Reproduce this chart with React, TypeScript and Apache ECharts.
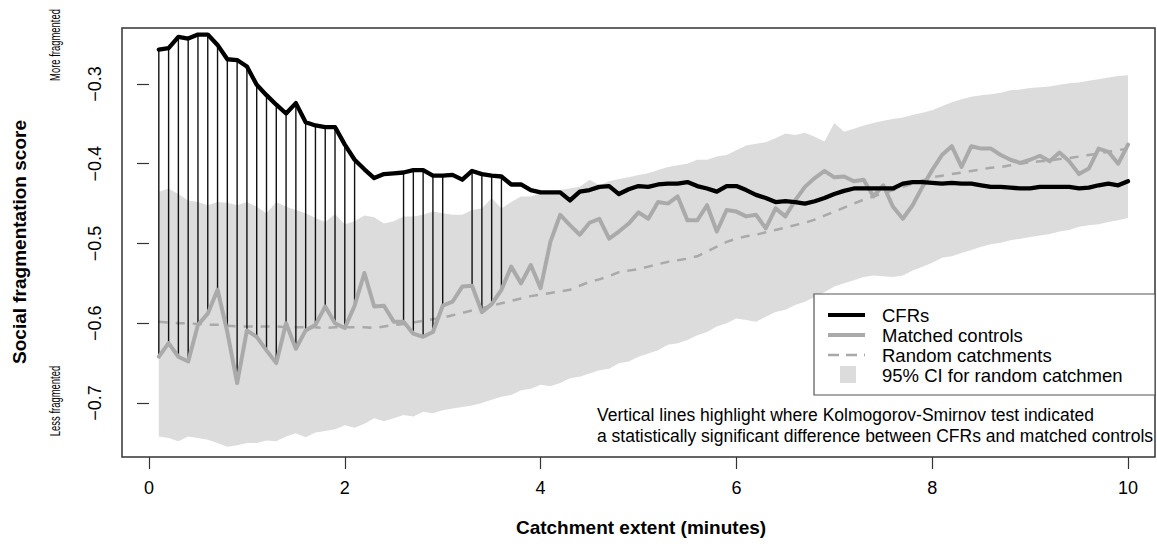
import React, { useEffect, useRef } from "react";
import * as echarts from "echarts";

// Catchment extent (minutes)
const extent = [
  0.1, 0.2, 0.3, 0.4, 0.5, 0.6, 0.7, 0.8, 0.9, 1.0,
  1.1, 1.2, 1.3, 1.4, 1.5, 1.6, 1.7, 1.8, 1.9, 2.0,
  2.1, 2.2, 2.3, 2.4, 2.5, 2.6, 2.7, 2.8, 2.9, 3.0,
  3.1, 3.2, 3.3, 3.4, 3.5, 3.6, 3.7, 3.8, 3.9, 4.0,
  4.1, 4.2, 4.3, 4.4, 4.5, 4.6, 4.7, 4.8, 4.9, 5.0,
  5.1, 5.2, 5.3, 5.4, 5.5, 5.6, 5.7, 5.8, 5.9, 6.0,
  6.1, 6.2, 6.3, 6.4, 6.5, 6.6, 6.7, 6.8, 6.9, 7.0,
  7.1, 7.2, 7.3, 7.4, 7.5, 7.6, 7.7, 7.8, 7.9, 8.0,
  8.1, 8.2, 8.3, 8.4, 8.5, 8.6, 8.7, 8.8, 8.9, 9.0,
  9.1, 9.2, 9.3, 9.4, 9.5, 9.6, 9.7, 9.8, 9.9, 10.0,
];

const cfrs = [
  -0.257, -0.255, -0.241, -0.243, -0.238, -0.238, -0.251, -0.269, -0.270, -0.278,
  -0.301, -0.314, -0.326, -0.337, -0.324, -0.348, -0.352, -0.354, -0.354, -0.376,
  -0.395, -0.407, -0.418, -0.413, -0.412, -0.411, -0.408, -0.408, -0.415, -0.415,
  -0.414, -0.420, -0.409, -0.413, -0.415, -0.416, -0.426, -0.426, -0.433, -0.436,
  -0.436, -0.436, -0.446, -0.435, -0.433, -0.429, -0.428, -0.438, -0.432, -0.428,
  -0.429, -0.426, -0.425, -0.425, -0.423, -0.428, -0.431, -0.435, -0.428, -0.428,
  -0.433, -0.439, -0.443, -0.448, -0.447, -0.448, -0.450, -0.447, -0.443, -0.438,
  -0.434, -0.431, -0.431, -0.431, -0.431, -0.431, -0.425, -0.423, -0.423, -0.424,
  -0.425, -0.424, -0.425, -0.425, -0.427, -0.429, -0.429, -0.430, -0.431, -0.431,
  -0.429, -0.429, -0.429, -0.429, -0.431, -0.430, -0.427, -0.425, -0.427, -0.422,
];

const matchedControls = [
  -0.642, -0.625, -0.642, -0.648, -0.602, -0.588, -0.558, -0.611, -0.675, -0.609,
  -0.617, -0.634, -0.650, -0.600, -0.632, -0.609, -0.602, -0.579, -0.600, -0.606,
  -0.578, -0.537, -0.579, -0.578, -0.598, -0.598, -0.613, -0.617, -0.611, -0.578,
  -0.573, -0.554, -0.553, -0.586, -0.576, -0.558, -0.529, -0.550, -0.527, -0.556,
  -0.498, -0.464, -0.477, -0.489, -0.474, -0.469, -0.494, -0.485, -0.475, -0.461,
  -0.469, -0.448, -0.450, -0.441, -0.471, -0.471, -0.452, -0.485, -0.458, -0.460,
  -0.466, -0.464, -0.481, -0.456, -0.466, -0.446, -0.429, -0.418, -0.409, -0.417,
  -0.416, -0.422, -0.420, -0.441, -0.427, -0.454, -0.469, -0.452, -0.429, -0.408,
  -0.389, -0.378, -0.404, -0.378, -0.381, -0.381, -0.389, -0.395, -0.399, -0.395,
  -0.390, -0.397, -0.386, -0.397, -0.413, -0.406, -0.381, -0.385, -0.400, -0.376,
];

const randomCatchments = [
  -0.598, -0.599, -0.600, -0.600, -0.601, -0.602, -0.602, -0.603, -0.604, -0.604,
  -0.604, -0.604, -0.604, -0.605, -0.605, -0.605, -0.605, -0.606, -0.605, -0.605,
  -0.605, -0.605, -0.606, -0.604, -0.602, -0.601, -0.599, -0.597, -0.595, -0.593,
  -0.590, -0.587, -0.584, -0.581, -0.578, -0.575, -0.572, -0.569, -0.566, -0.564,
  -0.562, -0.560, -0.558, -0.553, -0.548, -0.545, -0.541, -0.536, -0.534, -0.532,
  -0.529, -0.526, -0.523, -0.521, -0.519, -0.516, -0.510, -0.504, -0.498, -0.494,
  -0.491, -0.489, -0.486, -0.483, -0.480, -0.477, -0.474, -0.470, -0.465, -0.460,
  -0.455, -0.450, -0.445, -0.441, -0.437, -0.433, -0.429, -0.425, -0.421, -0.417,
  -0.415, -0.413, -0.411, -0.409, -0.407, -0.405, -0.404, -0.402, -0.400, -0.398,
  -0.397, -0.396, -0.394, -0.393, -0.391, -0.389, -0.387, -0.385, -0.383, -0.381,
];

const ciUpper = [
  -0.435, -0.431, -0.438, -0.446, -0.448, -0.452, -0.448, -0.449, -0.452, -0.448,
  -0.454, -0.462, -0.448, -0.454, -0.458, -0.462, -0.468, -0.473, -0.463, -0.476,
  -0.472, -0.465, -0.467, -0.475, -0.472, -0.466, -0.466, -0.464, -0.460, -0.462,
  -0.464, -0.464, -0.458, -0.456, -0.443, -0.456, -0.448, -0.441, -0.441, -0.437,
  -0.435, -0.433, -0.431, -0.429, -0.420, -0.427, -0.422, -0.419, -0.417, -0.414,
  -0.412, -0.408, -0.404, -0.402, -0.400, -0.395, -0.395, -0.391, -0.389, -0.383,
  -0.377, -0.375, -0.373, -0.368, -0.362, -0.364, -0.361, -0.366, -0.372, -0.349,
  -0.360, -0.356, -0.352, -0.349, -0.346, -0.344, -0.342, -0.339, -0.336, -0.333,
  -0.328, -0.323, -0.319, -0.316, -0.314, -0.313, -0.311, -0.308, -0.307, -0.305,
  -0.304, -0.303, -0.301, -0.299, -0.298, -0.296, -0.294, -0.292, -0.290, -0.289,
];

const ciLower = [
  -0.742, -0.744, -0.748, -0.742, -0.744, -0.746, -0.750, -0.755, -0.753, -0.750,
  -0.750, -0.747, -0.748, -0.742, -0.738, -0.743, -0.737, -0.735, -0.733, -0.728,
  -0.731, -0.726, -0.719, -0.723, -0.719, -0.715, -0.717, -0.711, -0.713, -0.709,
  -0.707, -0.705, -0.703, -0.700, -0.696, -0.692, -0.690, -0.684, -0.682, -0.677,
  -0.679, -0.675, -0.669, -0.667, -0.663, -0.659, -0.657, -0.650, -0.648, -0.642,
  -0.638, -0.634, -0.627, -0.625, -0.621, -0.615, -0.611, -0.604, -0.600, -0.594,
  -0.596, -0.598, -0.592, -0.586, -0.583, -0.577, -0.573, -0.567, -0.561, -0.554,
  -0.550, -0.546, -0.542, -0.540, -0.541, -0.542, -0.540, -0.534, -0.529, -0.524,
  -0.518, -0.516, -0.512, -0.508, -0.504, -0.501, -0.499, -0.496, -0.494, -0.492,
  -0.490, -0.488, -0.485, -0.483, -0.479, -0.477, -0.476, -0.473, -0.471, -0.468,
];

// Extents where the Kolmogorov-Smirnov test was significant
const ksSignificant = [
  0.1, 0.2, 0.3, 0.4, 0.5, 0.6, 0.7, 0.8, 0.9, 1.0, 1.1,
  1.2, 1.3, 1.4, 1.5, 1.6, 1.7, 1.8, 1.9, 2.0, 2.1,
  2.6, 2.7, 2.8, 2.9, 3.0,
  3.3, 3.4, 3.5, 3.6,
];

const xTicks = [0, 2, 4, 6, 8, 10];
const yTicks = [-0.7, -0.6, -0.5, -0.4, -0.3];

const legendLabels = ["CFRs", "Matched controls", "Random catchments", "95% CI for random catchmen"];
const noteLines = [
  "Vertical lines highlight where Kolmogorov-Smirnov test indicated",
  "a statistically significant difference between CFRs and matched controls",
];

const FONT = "'Liberation Sans', Arial, Helvetica, sans-serif";

function buildOption() {
  const pairs = (ys: number[]) => extent.map((x, i) => [x, ys[i]]);
  const ksData = ksSignificant.map((x) => {
    const i = extent.indexOf(x);
    return [x, cfrs[i], matchedControls[i]];
  });

  const txt = (
    text: string,
    x: number,
    y: number,
    size: number,
    extra: any = {}
  ) => ({
    type: "text",
    x,
    y,
    silent: true,
    ...extra,
    style: {
      text,
      fontSize: size,
      fontFamily: FONT,
      fontWeight: extra.bold ? "bold" : "normal",
      fill: "#000",
      align: extra.align || "left",
      textAlign: extra.align || "left",
      verticalAlign: "middle",
      textVerticalAlign: "middle",
    },
  });

  const legendRows = [315, 335, 355, 375];

  return {
    animation: false,
    backgroundColor: "#ffffff",
    grid: {
      left: 122,
      top: 28,
      width: 1033,
      height: 429,
      show: true,
      borderColor: "#333",
      borderWidth: 1.5,
      backgroundColor: "transparent",
    },
    xAxis: {
      type: "value",
      min: -0.276,
      max: 10.276,
      axisLine: { show: false },
      splitLine: { show: false },
      axisTick: {
        show: true,
        length: 12,
        customValues: xTicks,
        lineStyle: { color: "#333", width: 1.2 },
      },
      axisLabel: {
        customValues: xTicks,
        margin: 22,
        fontSize: 18,
        fontFamily: FONT,
        color: "#000",
        formatter: (v: number) => String(v),
      },
    },
    yAxis: {
      type: "value",
      min: -0.7677,
      max: -0.2298,
      axisLine: { show: false },
      splitLine: { show: false },
      axisTick: {
        show: true,
        length: 12,
        customValues: yTicks,
        lineStyle: { color: "#333", width: 1.2 },
      },
      axisLabel: {
        customValues: yTicks,
        rotate: 90,
        margin: 18,
        fontSize: 18,
        fontFamily: FONT,
        color: "#000",
        formatter: (v: number) => (v < 0 ? "\u2212" : "") + Math.abs(v).toFixed(1),
      },
    },
    series: [
      {
        name: "95% CI for random catchmen",
        type: "custom",
        silent: true,
        z: 1,
        clip: true,
        data: extent.map((x, i) => [x, ciLower[i], ciUpper[i]]),
        encode: { x: 0, y: [1, 2] },
        renderItem: (params: any, api: any) => {
          if (params.dataIndex !== 0) return { type: "group", children: [] };
          const pts: number[][] = [];
          for (let i = 0; i < extent.length; i++) pts.push(api.coord([extent[i], ciUpper[i]]));
          for (let i = extent.length - 1; i >= 0; i--) pts.push(api.coord([extent[i], ciLower[i]]));
          return {
            type: "polygon",
            shape: { points: pts },
            style: { fill: "#dcdcdc", stroke: "none" },
          };
        },
      },
      {
        name: "Random catchments",
        type: "line",
        z: 2,
        symbol: "none",
        showSymbol: false,
        silent: true,
        data: pairs(randomCatchments),
        lineStyle: { color: "#a9a9a9", width: 2.5, type: [9, 8], cap: "butt" },
      },
      {
        name: "KS significant",
        type: "custom",
        silent: true,
        z: 3,
        data: ksData,
        encode: { x: 0, y: [1, 2] },
        renderItem: (params: any, api: any) => {
          const a = api.coord([api.value(0), api.value(1)]);
          const b = api.coord([api.value(0), api.value(2)]);
          return {
            type: "line",
            shape: { x1: a[0], y1: a[1], x2: b[0], y2: b[1] },
            style: { stroke: "#111", lineWidth: 1.4 },
          };
        },
      },
      {
        name: "Matched controls",
        type: "line",
        z: 4,
        symbol: "none",
        showSymbol: false,
        silent: true,
        data: pairs(matchedControls),
        lineStyle: { color: "#aaaaaa", width: 4, join: "round", cap: "round" },
      },
      {
        name: "CFRs",
        type: "line",
        z: 5,
        symbol: "none",
        showSymbol: false,
        silent: true,
        data: pairs(cfrs),
        lineStyle: { color: "#000000", width: 4.3, join: "round", cap: "round" },
      },
    ],
    graphic: [
      // axis titles
      txt("Social fragmentation score", 19, 242, 19, { bold: true, align: "center", rotation: Math.PI / 2 }),
      txt("Catchment extent (minutes)", 641, 527, 19, { bold: true, align: "center" }),
      txt("More fragmented", 55, 45, 15, { align: "center", rotation: Math.PI / 2, scaleX: 0.63 }),
      txt("Less fragmented", 55, 401, 15, { align: "center", rotation: Math.PI / 2, scaleX: 0.63 }),
      // legend box
      {
        type: "rect",
        silent: true,
        z: 10,
        shape: { x: 814, y: 294, width: 341, height: 101 },
        style: { fill: "#fff", stroke: "#555", lineWidth: 1.2 },
      },
      {
        type: "line",
        silent: true,
        z: 11,
        shape: { x1: 828, y1: legendRows[0], x2: 865, y2: legendRows[0] },
        style: { stroke: "#000", lineWidth: 4 },
      },
      {
        type: "line",
        silent: true,
        z: 11,
        shape: { x1: 828, y1: legendRows[1], x2: 865, y2: legendRows[1] },
        style: { stroke: "#aaaaaa", lineWidth: 4 },
      },
      {
        type: "line",
        silent: true,
        z: 11,
        shape: { x1: 828, y1: legendRows[2], x2: 865, y2: legendRows[2] },
        style: { stroke: "#a9a9a9", lineWidth: 2.5, lineDash: [11, 7] },
      },
      {
        type: "rect",
        silent: true,
        z: 11,
        shape: { x: 840, y: 366, width: 16, height: 17 },
        style: { fill: "#dcdcdc" },
      },
      ...legendLabels.map((t, i) => ({ ...txt(t, 882, legendRows[i], 18.5), z: 12 })),
      // note
      ...noteLines.map((t, i) => ({ ...txt(t, 597, 415 + i * 21, 17.5), z: 12 })),
    ],
  };
}

export default function App() {
  const ref = useRef<HTMLDivElement>(null);
  useEffect(() => {
    if (!ref.current) return;
    const chart = echarts.init(ref.current, undefined, { renderer: "svg" });
    chart.setOption(buildOption() as any);
    return () => chart.dispose();
  }, []);
  return (
    <div
      ref={ref}
      style={{ position: "fixed", left: 0, top: 0, width: 1157, height: 549, background: "#fff" }}
    />
  );
}
